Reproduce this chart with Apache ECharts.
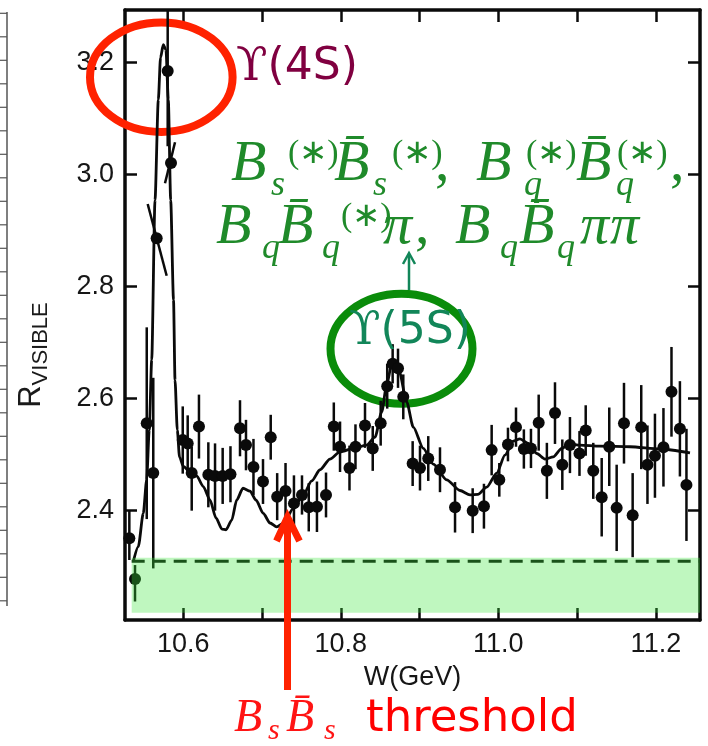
<!DOCTYPE html>
<html><head><meta charset="utf-8">
<script src="https://cdn.jsdelivr.net/npm/echarts@6/dist/echarts.min.js"></script>
<style>html,body{margin:0;padding:0;background:#fff}#c{width:708px;height:746px}</style>
</head><body><div id="c"></div>
<script>
// ---- data (W in GeV, R_visible) ----
const W = [10.5315,10.5387,10.5536,10.5619,10.5662,10.5802,10.5844,10.5993,10.6056,10.6107,
10.6199,10.6318,10.6403,10.6500,10.6599,10.6720,10.6796,10.6891,10.7012,10.7110,
10.7192,10.7298,10.7405,10.7507,10.7593,10.7697,10.7812,10.7911,10.7990,10.8110,
10.8186,10.8307,10.8405,10.8506,10.8589,10.8658,10.8726,10.8793,10.8912,10.9005,
10.9110,10.9259,10.9450,10.9674,10.9817,10.9915,11.0012,11.0122,11.0224,11.0324,
11.0414,11.0512,11.0616,11.0719,11.0812,11.0909,11.1030,11.1109,11.1205,11.1312,
11.1408,11.1502,11.1595,11.1705,11.1814,11.1893,11.1988,11.2096,11.2198,11.2305,11.2388];
const R = [2.351,2.278,2.556,2.467,2.886,3.184,3.020,2.526,2.520,2.467,
2.550,2.464,2.462,2.462,2.465,2.547,2.517,2.478,2.452,2.531,
2.425,2.435,2.413,2.428,2.406,2.407,2.428,2.550,2.514,2.476,
2.514,2.552,2.511,2.556,2.622,2.662,2.654,2.603,2.484,2.476,
2.493,2.473,2.406,2.400,2.408,2.508,2.455,2.518,2.549,2.510,
2.511,2.557,2.471,2.574,2.482,2.517,2.502,2.543,2.471,2.424,
2.514,2.405,2.556,2.392,2.549,2.482,2.498,2.513,2.612,2.546,2.446];
const errTop = [2.401,2.303,2.727,2.637,2.947,3.330,3.057,2.586,2.570,2.514,
2.607,2.522,2.520,2.512,2.515,2.597,2.562,2.528,2.492,2.571,
2.467,2.485,2.463,2.463,2.449,2.452,2.468,2.593,2.559,2.516,
2.554,2.592,2.551,2.596,2.662,2.697,2.689,2.643,2.524,2.516,
2.533,2.513,2.451,2.440,2.448,2.553,2.485,2.548,2.584,2.545,
2.546,2.607,2.521,2.629,2.527,2.567,2.542,2.588,2.521,2.494,
2.584,2.482,2.628,2.467,2.624,2.552,2.573,2.583,2.692,2.631,2.546];
const errBot = [2.312,2.238,2.385,2.297,2.819,3.050,2.984,2.466,2.470,2.400,
2.493,2.406,2.400,2.412,2.415,2.497,2.472,2.428,2.412,2.491,
2.383,2.385,2.363,2.393,2.363,2.362,2.388,2.507,2.469,2.436,
2.474,2.512,2.471,2.516,2.582,2.627,2.619,2.563,2.444,2.436,
2.453,2.433,2.361,2.360,2.368,2.463,2.425,2.488,2.514,2.475,
2.476,2.507,2.421,2.519,2.437,2.467,2.462,2.498,2.421,2.354,
2.444,2.328,2.484,2.317,2.474,2.412,2.423,2.443,2.532,2.461,2.346];
// tilted error bars near the Y(4S) peak: index, W-offset of top end, W-offset of bottom end
const tiltIdx = [4, 6];
const tiltTop = [-0.0114, 0.0051];
const tiltBot = [0.0127, -0.0076];

// fitted curve
const curveW = [10.5365,10.5429,10.5492,10.5535,10.5568,10.5599,10.5641,10.5683,10.5711,10.5746,
10.5780,10.5810,10.5840,10.5876,10.5895,10.5924,10.5952,10.6000,10.6085,10.6170,
10.6254,10.6339,10.6415,10.6491,10.6542,10.6615,10.6678,10.6758,10.6847,10.6923,
10.7016,10.7101,10.7186,10.7278,10.7397,10.7523,10.7630,10.7736,10.7862,10.7989,
10.8180,10.8328,10.8434,10.8519,10.8582,10.8646,10.8688,10.8742,10.8836,10.8920,
10.9047,10.9174,10.9344,10.9513,10.9640,10.9741,10.9852,10.9979,11.0084,11.0189,
11.0274,11.0380,11.0487,11.0592,11.0697,11.0804,11.0909,11.1036,11.1290,11.1671,11.2052,11.2433];
const curveR = [2.309,2.336,2.395,2.455,2.544,2.669,2.954,3.133,3.208,3.231,
3.222,3.133,2.954,2.776,2.633,2.544,2.496,2.479,2.469,2.462,
2.443,2.419,2.387,2.367,2.366,2.383,2.419,2.440,2.435,2.419,
2.395,2.378,2.371,2.378,2.404,2.428,2.453,2.473,2.492,2.505,
2.512,2.517,2.531,2.576,2.624,2.662,2.666,2.648,2.594,2.549,
2.511,2.483,2.455,2.436,2.428,2.429,2.442,2.467,2.499,2.524,
2.528,2.520,2.502,2.492,2.496,2.511,2.519,2.517,2.515,2.514,2.510,2.503];

// continuum band and level
const bandW = [10.5345, 11.256];
const bandR = [2.218, 2.316];
const dashW = [10.5345, 11.256];
const dashR = 2.310;

// axes
const xRange = [10.526, 11.256];
const yRange = [2.205, 3.293];
const xTickVals = [10.6, 10.7, 10.8, 10.9, 11.0, 11.1, 11.2];
const xLabelVals = [10.6, 10.8, 11.0, 11.2];
const yTickVals = [2.4, 2.6, 2.8, 3.0, 3.2];

// ---- chart ----
const chart = echarts.init(document.getElementById('c'), null, {renderer: 'canvas'});
const INK = '#0a0a0a';
const RED = '#ff2200';
const GREEN = '#1f8a2a';
const TEAL = '#128659';

function axisCommon(pos, showLabels, tickVals, labelVals) {
  return {
    type: 'value', position: pos, z: 10,
    axisLine: {show: true, onZero: false, lineStyle: {color: INK, width: 3.5}},
    axisTick: {show: true, inside: true, length: 12, customValues: tickVals, lineStyle: {color: INK, width: 2.5}},
    axisLabel: {show: showLabels, customValues: labelVals, formatter: v => v.toFixed(1),
      fontSize: 27, color: '#161616', fontFamily: 'Liberation Sans', margin: 11},
    splitLine: {show: false}
  };
}
const xBottom = Object.assign(axisCommon('bottom', true, xTickVals, xLabelVals), {
  min: xRange[0], max: xRange[1],
  name: 'W(GeV)', nameLocation: 'middle', nameGap: 44,
  nameTextStyle: {fontSize: 27, color: '#161616', fontFamily: 'Liberation Sans'}
});
const xTop = Object.assign(axisCommon('top', false, xTickVals, xLabelVals), {min: xRange[0], max: xRange[1]});
const yLeft = Object.assign(axisCommon('left', true, yTickVals, yTickVals), {min: yRange[0], max: yRange[1]});
const yRight = Object.assign(axisCommon('right', false, yTickVals, yTickVals), {min: yRange[0], max: yRange[1]});

// math-like rich text builder (annotation layout only)
function mathText(parts, styles) {
  const rich = {}; let s = '';
  parts.forEach((p, i) => {
    const k = 't' + i;
    rich[k] = Object.assign({}, styles[p[0]], p[2] != null ? {width: p[2], align: 'left'} : {});
    s += '{' + k + '|' + p[1] + '}';
  });
  return {text: s, rich: rich};
}
const serif = 'Liberation Serif';
const gStyles = {
  B: {fontFamily: serif, fontStyle: 'italic', fontSize: 58, fill: GREEN, lineHeight: 80},
  sb: {fontFamily: serif, fontStyle: 'italic', fontSize: 36, fill: GREEN, padding: [41, 0, 0, 0]},
  sp: {fontFamily: serif, fontSize: 34, fill: GREEN, padding: [0, 0, 22, 0]},
  n: {fontFamily: serif, fontSize: 58, fill: GREEN}
};
const BB = 'B\u0304';
const line1 = mathText([
  ['B', 'B', 40], ['sb', 's', 17], ['sp', '(∗)', 46],
  ['B', BB, 39], ['sb', 's', 19], ['sp', '(∗)', 43], ['n', ',', 41],
  ['B', 'B', 48], ['sb', 'q', 2], ['sp', '(∗)', 50],
  ['B', BB, 40], ['sb', 'q', 1], ['sp', '(∗)', 53], ['n', ',', null]
], gStyles);
const line2 = mathText([
  ['B', 'B', 46], ['sb', 'q', 16], ['B', BB, 44], ['sb', 'q', 19], ['sp', '(∗)', 42],
  ['B', 'π', 32], ['n', ',', 40],
  ['B', 'B', 45], ['sb', 'q', 19], ['B', BB, 38], ['sb', 'q', 23], ['B', 'π', 30], ['B', 'π', null]
], gStyles);

const rStyles = {
  B: {fontFamily: serif, fontStyle: 'italic', fontSize: 46, fill: '#ff1414', lineHeight: 60},
  sb: {fontFamily: serif, fontStyle: 'italic', fontSize: 30, fill: '#ff1414', padding: [24, 0, 0, 0]},
  t: {fontFamily: 'DejaVu Sans', fontSize: 45, fill: '#ff0000'}
};
const redLabel = mathText([
  ['B', 'B', 34], ['sb', 's', 18], ['B', BB, 38], ['sb', 's', 42], ['t', 'threshold', null]
], rStyles);

const ruler = [{type: 'line', shape: {x1: 7, y1: 12, x2: 7, y2: 606}, style: {stroke: '#555', lineWidth: 1.5}}];
for (let k = 0; k <= 25; k++) {
  const y = 13.3 + 23.5 * k;
  ruler.push({type: 'line', shape: {x1: 0, y1: y, x2: 7, y2: y}, style: {stroke: '#555', lineWidth: 1.2}});
}

const option = {
  backgroundColor: '#ffffff',
  animation: false,
  textStyle: {fontFamily: 'Liberation Sans'},
  grid: {left: 125, right: 8, top: 10, bottom: 126, containLabel: false, outerBoundsMode: 'none'},
  xAxis: [xBottom, xTop],
  yAxis: [yLeft, yRight],
  series: [
    { // fitted curve
      type: 'line', z: 12, symbol: 'none', smooth: 0.25, smoothMonotone: 'x', clip: true,
      data: curveW.map((w, i) => [w, curveR[i]]),
      lineStyle: {color: INK, width: 2.8}
    },
    { // dashed level
      type: 'line', z: 12, symbol: 'none',
      data: dashW.map(w => [w, dashR]),
      lineStyle: {color: INK, width: 3, type: [13, 8]}
    },
    { // error bars
      type: 'custom', z: 12, clip: true,
      data: W.map((w, i) => {
        const t = tiltIdx.indexOf(i);
        return [w, errTop[i], errBot[i], t >= 0 ? tiltTop[t] : 0, t >= 0 ? tiltBot[t] : 0];
      }),
      encode: {x: 0, y: 1},
      renderItem: (params, api) => {
        const w = api.value(0);
        const p1 = api.coord([w + api.value(3), api.value(1)]);
        const p2 = api.coord([w + api.value(4), api.value(2)]);
        return {type: 'line', shape: {x1: p1[0], y1: p1[1], x2: p2[0], y2: p2[1]},
          style: {stroke: INK, lineWidth: 2.5}};
      }
    },
    { // data points
      type: 'scatter', z: 13, symbol: 'circle', symbolSize: 12,
      data: W.map((w, i) => [w, R[i]]),
      itemStyle: {color: INK, opacity: 1}
    },
    { // continuum band (overlay)
      type: 'custom', z: 15, silent: true,
      data: [[bandW[0], bandW[1], bandR[0], bandR[1]]],
      encode: {x: 0, y: 2},
      renderItem: (params, api) => {
        const a = api.coord([api.value(0), api.value(3)]);
        const b = api.coord([api.value(1), api.value(2)]);
        return {type: 'rect', shape: {x: a[0], y: a[1], width: b[0] - a[0], height: b[1] - a[1]},
          style: {fill: 'rgba(61,230,61,0.33)'}};
      }
    }
  ],
  graphic: [
    {type: 'group', children: ruler},
    {type: 'text', x: 31, y: 355, rotation: Math.PI / 2, z: 20,
      style: {text: '{r|R}{v|VISIBLE}', align: 'center', verticalAlign: 'middle',
        rich: {r: {fontSize: 31, fontFamily: 'Liberation Sans', fill: '#1a1a1a'},
               v: {fontSize: 22, fontFamily: 'Liberation Sans', fill: '#1a1a1a', padding: [20, 0, 0, 0]}}}},
    // Y(4S)
    {type: 'ellipse', z: 11, shape: {cx: 161.3, cy: 77.2, rx: 71.3, ry: 54.8},
      style: {fill: 'none', stroke: RED, lineWidth: 8}},
    {type: 'text', x: 236, y: 39, z: 20,
      style: {text: '{u|ϒ}{t|(4S)}', verticalAlign: 'top',
        rich: {u: {fontFamily: 'DejaVu Serif', fontSize: 46, fill: '#800040', lineHeight: 58},
               t: {fontFamily: 'DejaVu Sans', fontSize: 44, fill: '#800040', lineHeight: 58}}}},
    // decay channels
    {type: 'text', x: 231, y: 125, z: 20, style: Object.assign({verticalAlign: 'top'}, line1)},
    {type: 'text', x: 216, y: 188, z: 20, style: Object.assign({verticalAlign: 'top'}, line2)},
    // Y(5S)
    {type: 'ellipse', z: 11, shape: {cx: 401.5, cy: 348.7, rx: 71, ry: 55},
      style: {fill: 'none', stroke: '#0a8c0a', lineWidth: 8}},
    {type: 'text', x: 349, y: 303, z: 20,
      style: {text: '{u|ϒ}{t|(5S)}', verticalAlign: 'top',
        rich: {u: {fontFamily: 'DejaVu Serif', fontSize: 46, fill: TEAL, lineHeight: 58},
               t: {fontFamily: 'DejaVu Sans', fontSize: 44, fill: TEAL, lineHeight: 58}}}},
    {type: 'polyline', z: 20, shape: {points: [[409, 290], [409, 254]]}, style: {stroke: TEAL, lineWidth: 2.5, fill: 'none'}},
    {type: 'polyline', z: 20, shape: {points: [[403, 264], [409, 253], [415, 264]]}, style: {stroke: TEAL, lineWidth: 2.5, fill: 'none'}},
    // threshold arrow + label
    {type: 'polyline', z: 20, shape: {points: [[287.5, 690], [287.5, 520]]}, style: {stroke: RED, lineWidth: 7, fill: 'none'}},
    {type: 'polyline', z: 20, shape: {points: [[276.5, 541], [287.5, 517], [299.5, 541]]},
      style: {stroke: RED, lineWidth: 7, fill: 'none', lineJoin: 'miter'}},
    {type: 'text', x: 234, y: 689, z: 20, style: Object.assign({verticalAlign: 'top'}, redLabel)}
  ]
};
chart.setOption(option);
</script>
</body></html>
